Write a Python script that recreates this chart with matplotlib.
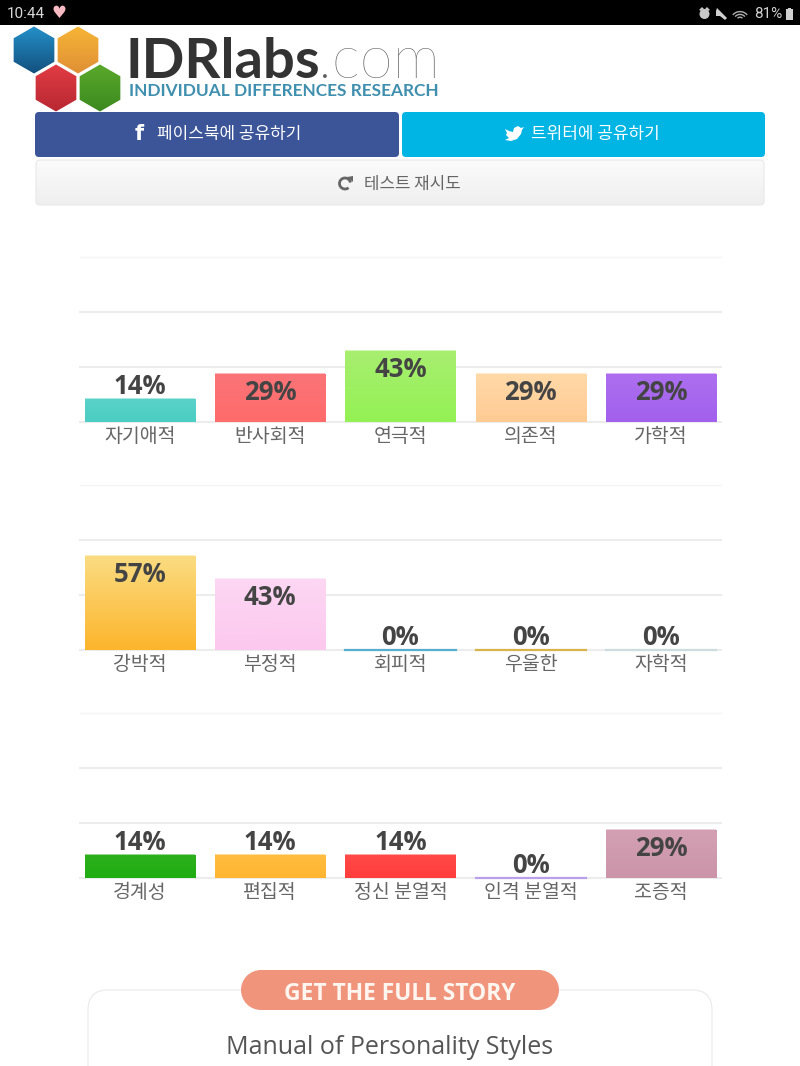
import matplotlib
matplotlib.use("Agg")
import matplotlib.pyplot as plt
import numpy as np
from matplotlib.colors import LinearSegmentedColormap
from matplotlib.patches import FancyBboxPatch, RegularPolygon, Polygon, Arc, Rectangle, Circle

W, H = 800, 1066
KR = ["Noto Sans CJK KR", "DejaVu Sans"]
plt.rcParams["font.family"] = KR

cats_a = ["자기애적", "반사회적", "연극적", "의존적", "가학적"]
vals_a = [14, 29, 43, 29, 29]
cats_b = ["강박적", "부정적", "회피적", "우울한", "자학적"]
vals_b = [57, 43, 0, 0, 0]
cats_c = ["경계성", "편집적", "정신 분열적", "인격 분열적", "조증적"]
vals_c = [14, 14, 14, 0, 29]

# (top colour, bottom colour) of each bar
colors_a = [("#5bd3ca", "#4acdc2"), ("#fb7478", "#ff6b6b"), ("#a8ee70", "#93f254"),
            ("#ffd9a8", "#ffcb94"), ("#ad6ff0", "#a260ec")]
colors_b = [("#fadc82", "#fdb52c"), ("#fcd7f3", "#fcc8ee"), ("#58aed0", "#58aed0"),
            ("#d9b44a", "#d9b44a"), ("#cddcdf", "#cddcdf")]
colors_c = [("#2cb01c", "#20ad12"), ("#ffbd40", "#ffb530"), ("#ff4a48", "#ff3d3c"),
            ("#b9a0e8", "#b9a0e8"), ("#d3a0b3", "#cc94a9")]

grid_vals = [0, 33.3, 66.7, 100]

fig = plt.figure(figsize=(W / 100, H / 100), dpi=100, facecolor="white")

# page furniture is laid out in pixel coordinates
page = fig.add_axes([0, 0, 1, 1])
page.set_xlim(0, W)
page.set_ylim(H, 0)
page.axis("off")


def rbox(x0, y0, x1, y1, r, **kw):
    p = FancyBboxPatch((x0 + r, y0 + r), x1 - x0 - 2 * r, y1 - y0 - 2 * r,
                       boxstyle=f"round,pad={r},rounding_size={r}", **kw)
    page.add_patch(p)
    return p


def gradient(patch, extent, top, bottom, ax=page):
    cmap = LinearSegmentedColormap.from_list("g", [top, bottom])
    im = ax.imshow(np.linspace(0, 1, 64)[:, None], cmap=cmap, extent=extent,
                   aspect="auto", zorder=patch.get_zorder())
    im.set_clip_path(patch)


# status bar
page.add_patch(Rectangle((0, 0), W, 25, fc="black", ec="none"))
page.text(7, 14, "10:44", color="#d8d8d8", fontsize=11, family="Roboto", va="center")
page.text(59, 13, "♥", color="#f7b9c2", fontsize=12, family="DejaVu Sans", va="center", ha="center")
page.text(782, 14, "81%", color="#d0d0d0", fontsize=11, family="Roboto", va="center", ha="right")
page.add_patch(Rectangle((786, 9), 7, 11, fc="#d0d0d0", ec="none"))
page.add_patch(Rectangle((788, 7.5), 3, 2, fc="#d0d0d0", ec="none"))
page.add_patch(Circle((704.5, 14), 5, fc="#c8c8c8", ec="none"))
page.add_patch(Polygon([[699, 10], [702, 7], [704, 9], [701, 11]], fc="#c8c8c8", ec="none"))
page.add_patch(Polygon([[710, 10], [707, 7], [705, 9], [708, 11]], fc="#c8c8c8", ec="none"))
page.add_patch(Polygon([[717, 8], [727, 18], [725, 20], [720, 16], [716, 16], [716, 11]], fc="#d0d0d0", ec="none"))
for r in [12, 8, 4]:
    page.add_patch(Arc((740, 20), r * 1.5, r * 1.4, theta1=215, theta2=325, color="#b0b0b0", lw=1))

# logo
for cx, cy, top, bottom in [(34, 50, "#2390c8", "#14507f"), (78, 50, "#f6b535", "#e08f35"),
                            (56, 88, "#e23c44", "#b82832"), (100, 88, "#5aa82a", "#3c8a20")]:
    hexa = RegularPolygon((cx, cy), 6, radius=23.5, fc="none", ec="none")
    page.add_patch(hexa)
    gradient(hexa, (cx - 22, cx + 22, cy + 24, cy - 24), top, bottom)
page.text(126, 78, "IDRlabs", color="#333333", fontsize=40.5, family="Lato", weight="bold",
          va="baseline", ha="left")
page.text(318, 78, ".com", color="#5f5f5f", fontsize=43, family="Lato", weight="light",
          va="baseline", ha="left")
page.text(129, 96, "INDIVIDUAL DIFFERENCES RESEARCH", color="#3f8fae", fontsize=12.4,
          family="Lato", weight="bold", va="baseline", ha="left")

# share and retry buttons
rbox(35, 112, 399, 157, 4, fc="#3b5598", ec="none")
rbox(402, 112, 765, 157, 4, fc="#00b4e3", ec="none")
page.text(139, 133.5, "f", color="white", fontsize=15, family="DejaVu Sans", weight="bold",
          ha="center", va="center")
page.text(229, 134.5, "페이스북에 공유하기", color="white", fontsize=12.2, ha="center", va="center",
          family=KR, weight="medium")
bird = [[505, 129], [509, 131], [513, 132], [514, 128], [518, 126], [521, 128], [524, 127],
        [522, 130], [521, 134], [517, 139], [511, 141], [505, 140], [509, 138], [506, 135], [507, 133]]
page.add_patch(Polygon(bird, fc="white", ec="none"))
page.text(595, 134.5, "트위터에 공유하기", color="white", fontsize=12.2, ha="center", va="center",
          family=KR, weight="medium")
retry = rbox(36, 160, 764, 205, 4, fc="none", ec="none")
gradient(retry, (36, 764, 205, 160), "#fbfbfb", "#efefef")
rbox(36, 160, 764, 205, 4, fc="none", ec="#e8e8e8", lw=0.8)
page.add_patch(Arc((345, 183.5), 11, 11, theta1=50, theta2=350, color="#666666", lw=2))
page.add_patch(Polygon([[347, 177], [353, 176], [353, 182]], fc="#666666", ec="none"))
page.text(412, 184.5, "테스트 재시도", color="#666666", fontsize=12.1, ha="center", va="center")

# footer card with its pill heading
rbox(88, 990, 712, 1100, 20, fc="white", ec="#ececec", lw=0.9)
page.add_patch(Rectangle((261, 970), 278, 40, fc="#f0947c", ec="none", zorder=3))
page.add_patch(Circle((261, 990), 20, fc="#f0947c", ec="none", zorder=3))
page.add_patch(Circle((539, 990), 20, fc="#f0947c", ec="none", zorder=3))
page.text(400, 993.5, "GET THE FULL STORY", color="#fff6f0", fontsize=16.4, family="Open Sans",
          weight="bold", ha="center", va="center", zorder=4)
page.text(390, 1047, "Manual of Personality Styles", color="#555555", fontsize=18,
          family="Open Sans", ha="center", va="center")
page.set_xlim(0, W)
page.set_ylim(H, 0)


def bar_row(base_px, cats, vals, colors):
    # axes spans 80..721 px wide and 165 px tall above the baseline
    ax = fig.add_axes([80 / W, 1 - base_px / H, 641 / W, 165 / H])
    ax.patch.set_alpha(0)
    xs = np.arange(len(cats))
    w = 0.845
    bars = ax.bar(xs, vals, width=w, color=[c[0] for c in colors], zorder=3, linewidth=0)
    for x, v, bar, (top, bottom) in zip(xs, vals, bars, colors):
        if v > 0:
            gradient(bar, (x - w / 2, x + w / 2, 0, v), top, bottom, ax=ax)
            ax.plot([x - w / 2, x + w / 2], [v, v], color=top, lw=1.2, alpha=0.6, zorder=4,
                    solid_capstyle="butt")
        else:
            ax.plot([x - w / 2, x + w / 2], [0, 0], color=top, lw=1.6, zorder=4, clip_on=False)
        # short bars carry the label above, taller ones inside
        inside = v >= 29
        ax.annotate(f"{v}%", (x, v), xytext=(0, -13.2 if inside else 9),
                    textcoords="offset points", ha="center", va="center", fontsize=18.5,
                    family="Open Sans", weight="bold", color="#444444", zorder=5)
    ax.set_xlim(-0.46, 4.46)
    ax.set_ylim(0, 100)
    ax.set_xticks(xs, cats)
    ax.set_yticks(grid_vals)
    ax.set_yticklabels([])
    ax.tick_params(length=0, pad=3, labelsize=14, labelcolor="#666666")
    ax.grid(axis="y", color="#ececec", lw=1.5, clip_on=False)
    ax.set_axisbelow(True)
    for s in ax.spines.values():
        s.set_visible(False)
    lines = ax.yaxis.get_gridlines()
    lines[-1].set_color("#f4f4f4")
    lines[-1].set_linewidth(1)


bar_row(422, cats_a, vals_a, colors_a)
bar_row(650, cats_b, vals_b, colors_b)
bar_row(878, cats_c, vals_c, colors_c)

fig.savefig("out.png", dpi=100)
